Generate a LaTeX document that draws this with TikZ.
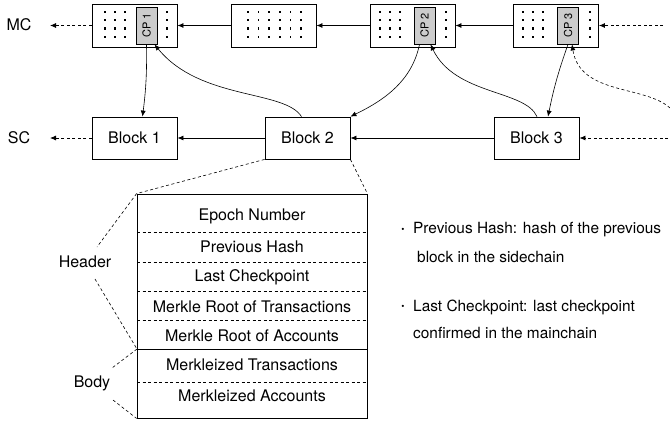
\documentclass[tikz,border=0pt]{standalone}
\usepackage{fontspec}
\setmainfont{TeX Gyre Heros}
\usetikzlibrary{arrows.meta}

\begin{document}
\begin{tikzpicture}[x=1pt,y=-1pt,
	every node/.style={font=\fontsize{16}{18}\selectfont},
	blk/.style={draw,line width=0.8pt,minimum width=85pt,minimum height=43pt,inner sep=0pt},
	cpbox/.style={draw,fill=black!20,line width=0.8pt,minimum width=21pt,minimum height=37pt,inner sep=0pt,font=\fontsize{11}{13}\selectfont},
	note/.style={anchor=west,inner sep=0pt,font=\fontsize{15.4}{18}\selectfont},
	link/.style={line width=0.8pt,-{Latex[length=6pt,width=5pt]}},
	thin link/.style={line width=0.6pt,-{Latex[length=6pt,width=5pt]}},
	dashes/.style={dash pattern=on 3pt off 2.5pt}]
				\useasboundingbox (0,0) rectangle (670,424);
				\node (mc) at (19,25) {MC};
				\node (sc) at (19,138) {SC};
				\node [blk] (ma) at (134.5,25.5) {};
				\node [blk] (mb) at (273.5,25.5) {};
				\node [blk] (mcc) at (412.5,25.5) {};
				\node [blk] (md) at (556,25.5) {};
				\node [cpbox] (cp1) at (146.5,25.5) {\rotatebox{90}{CP 1}};
				\node [cpbox] (cp2) at (424.5,25.5) {\rotatebox{90}{CP 2}};
				\node [cpbox] (cp3) at (568,25.5) {\rotatebox{90}{CP 3}};
				\foreach \x in {105,115,125,167,248,258.5,269,280,290.5,301,380,390,400,446,523,533,543,590}
					\foreach \y in {11.7,20,28.3,36.7}
						\fill (\x-0.55,\y-1.2) rectangle (\x+0.55,\y+1.2);
				\node [blk,minimum height=42pt] (b1) at (134.5,138) {Block 1};
				\node [blk,minimum height=42pt] (b2) at (307.5,138) {Block 2};
				\node [blk,minimum height=42pt] (b3) at (536.5,138) {Block 3};
				\coordinate (mcout) at (50,25.5);
				\coordinate (scout) at (50,138);
				\coordinate (mcin) at (663,25.5);
				\coordinate (scin) at (668,138);
				\coordinate (far) at (670,108);
				\draw [link,dashes] (ma) -- (mcout);
				\draw [link] (mb) -- (ma);
				\draw [link] (mcc) -- (mb);
				\draw [link] (md) -- (mcc);
				\draw [link,dashes] (mcin) -- (md);
				\draw [link,dashes] (b1) -- (scout);
				\draw [link] (b2) -- (b1);
				\draw [link] (b3) -- (b2);
				\draw [link,dashes] (scin) -- (b3);
				\draw [thin link] (cp1.south) to [bend left=4] ([xshift=8pt]b1.north);
				\draw [thin link] ([xshift=-6pt]b2.north) .. controls +(-17,-27) and +(45.5,56) .. ([xshift=8pt]cp1.south);
				\draw [thin link] ([xshift=-5pt]cp2.south) .. controls +(-7.5,36) and +(35,-17) .. (b2.north east);
				\draw [thin link] ([xshift=0.5pt]b3.north) .. controls +(-12,-27) and +(24.5,51) .. ([xshift=6pt]cp2.south);
				\draw [thin link] (cp3.south) to [bend right=4] ([xshift=11.5pt]b3.north);
				\draw [thin link,dashes] (far) .. controls +(-25,-23) and +(8,51) .. ([xshift=4pt]cp3.south);
				\node [draw,line width=0.8pt,minimum width=230pt,minimum height=224pt,inner sep=0pt] (tab) at (252,306) {};
				\foreach \y in {232,262,291,320,382}
					\draw [line width=0.6pt,dashes] (137,\y) -- (367,\y);
				\draw [line width=0.8pt] (137,349) -- (367,349);
				\node (r1) at (252,216) {Epoch Number};
				\node (r2) at (252,247) {Previous Hash};
				\node (r3) at (252,277) {Last Checkpoint};
				\node (r4) at (252,307) {Merkle Root of Transactions};
				\node (r5) at (252,336) {Merkle Root of Accounts};
				\node (r6) at (252,365) {Merkleized Transactions};
				\node (r7) at (252,396) {Merkleized Accounts};
				\draw [line width=0.6pt,dashes] (b2.south west) -- (tab.north west);
				\draw [line width=0.6pt,dashes] (b2.south east) -- (tab.north east);
				\node (hdr) at (85,262) {Header};
				\node (bod) at (92,383) {Body};
				\coordinate (split) at (137,349);
				\coordinate (hdrtop) at (97,247);
				\coordinate (hdrbot) at (95,279);
				\coordinate (bodtop) at (112,368);
				\coordinate (bodbot) at (113,400);
				\draw [line width=0.6pt,dashes] (tab.north west) -- (hdrtop);
				\draw [line width=0.6pt,dashes] (hdrbot) -- (split);
				\draw [line width=0.6pt,dashes] (split) -- (bodtop);
				\draw [line width=0.6pt,dashes] (bodbot) -- (tab.south west);
				\node (dot1) at (403,230) {\fontsize{9}{9}\selectfont\textbullet};
				\node [note] (n1) at (413,230) {Previous Hash: hash of the previous};
				\node [note] (n1b) at (417,257) {block in the sidechain};
				\node (dot2) at (403,307) {\fontsize{9}{9}\selectfont\textbullet};
				\node [note] (n2) at (413,307) {Last Checkpoint: last checkpoint};
				\node [note] (n2b) at (413,333) {confirmed in the mainchain};
			\end{tikzpicture}
\end{document}
